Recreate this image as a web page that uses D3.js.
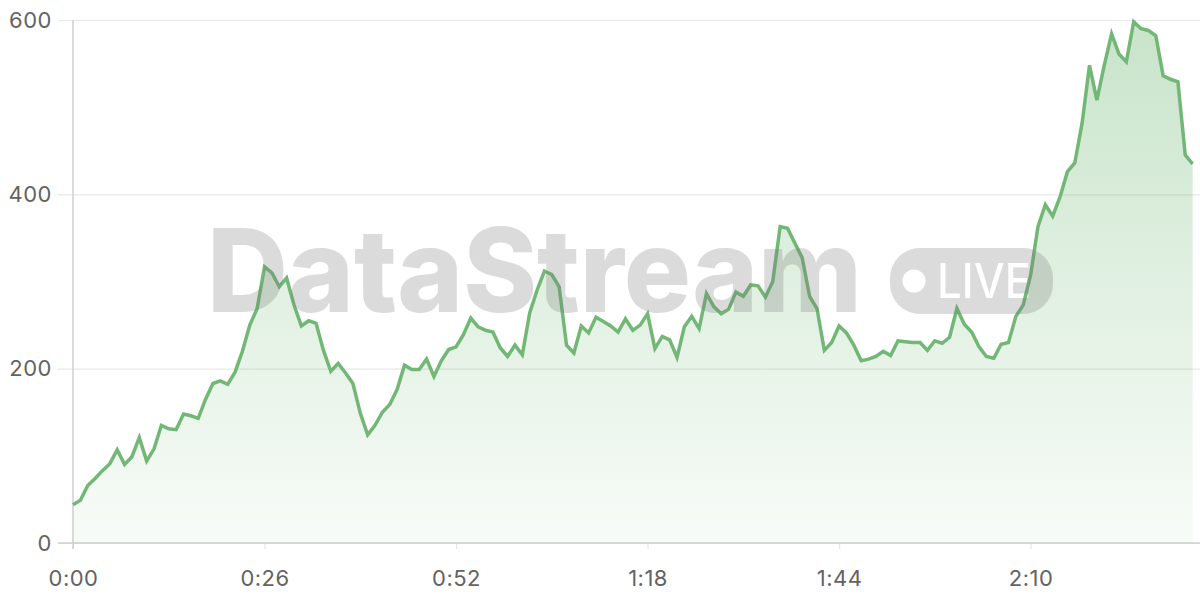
<!DOCTYPE html>
<html>
<head>
<meta charset="utf-8">
<script src="https://cdn.jsdelivr.net/npm/d3@7"></script>
<style>
  html, body { margin: 0; padding: 0; background: #fff; }
  svg { display: block; }
</style>
</head>
<body>
<svg id="chart" width="1200" height="600"></svg>
<script>
// seconds elapsed (one sample per second)
const values = [
  44, 49, 66, 74, 83, 91, 107, 90, 99, 121,
  94, 108, 135, 131, 130, 148, 146, 143, 165, 183,
  186, 182, 196, 220, 250, 269, 317, 310, 294, 304,
  273, 249, 255, 252, 221, 197, 206, 195, 183, 149,
  124, 135, 150, 159, 176, 204, 199, 199, 211, 191,
  209, 222, 225, 239, 258, 248, 244, 242, 224, 214,
  227, 216, 264, 290, 312, 308, 294, 227, 218, 249,
  241, 259, 254, 249, 242, 257, 244, 250, 263, 223,
  237, 233, 213, 248, 260, 246, 286, 271, 263, 268,
  288, 283, 296, 295, 282, 300, 363, 361, 344, 327,
  283, 269, 221, 230, 249, 241, 227, 209, 211, 214,
  220, 215, 232, 231, 230, 230, 221, 232, 229, 236,
  269, 251, 242, 225, 214, 212, 228, 230, 260, 273,
  307, 363, 388, 375, 397, 426, 436, 482, 548, 508,
  548, 584, 561, 552, 598, 590, 588, 582, 536, 532,
  529, 445, 435
];
const times = values.map((v, i) => i);
const xTicks = [0, 26, 52, 78, 104, 130];
const yTicks = [0, 200, 400, 600];
const watermarkText = "DataStream";
const badgeText = "LIVE";

const svg = d3.select("#chart");
const mLeft = 73, mRight = 1200, mTop = 20, mBottom = 543;

const x = d3.scaleLinear().domain([0, 153]).range([mLeft, mRight]);
const y = d3.scaleLinear().domain([0, 600]).range([mBottom, mTop]);
const fmt = s => Math.floor(s / 60) + ":" + String(s % 60).padStart(2, "0");

const defs = svg.append("defs");
const grad = defs.append("linearGradient")
  .attr("id", "areaGrad").attr("gradientUnits", "userSpaceOnUse")
  .attr("x1", 0).attr("x2", 0).attr("y1", mTop).attr("y2", mBottom);
grad.append("stop").attr("offset", "0%").attr("stop-color", "#6fb873").attr("stop-opacity", 0.38);
grad.append("stop").attr("offset", "100%").attr("stop-color", "#6fb873").attr("stop-opacity", 0.05);

const labelFont = "Inter, 'Open Sans', sans-serif";

// horizontal grid
const gy = svg.append("g").attr("transform", `translate(${mLeft},0)`)
  .call(d3.axisLeft(y).tickValues(yTicks).tickSize(-(mRight - mLeft)).tickPadding(21).tickFormat(d3.format("d")));
gy.select(".domain").remove();
gy.selectAll(".tick line").attr("stroke", "#e8e8e8").attr("stroke-width", 1.2).attr("x1", -15);
gy.selectAll(".tick text").attr("fill", "#636363").style("font-family", labelFont)
  .style("font-size", "22px").style("letter-spacing", "0.5px").attr("x", -21);

// vertical grid
const gx = svg.append("g").attr("transform", `translate(0,${mBottom})`)
  .call(d3.axisBottom(x).tickValues(xTicks).tickSize(-(mBottom - mTop)).tickPadding(27).tickFormat(fmt));
gx.select(".domain").remove();
gx.selectAll(".tick line").attr("stroke", "#e6e6e6").attr("stroke-width", 1.2).attr("y2", 6);
gx.selectAll(".tick text").attr("fill", "#636363").style("font-family", labelFont)
  .style("font-size", "22px").style("letter-spacing", "0.5px");

// axis lines
svg.append("line").attr("x1", mLeft).attr("x2", mLeft).attr("y1", mTop).attr("y2", mBottom + 6)
  .attr("stroke", "#cfcfcf").attr("stroke-width", 1.5);
svg.append("line").attr("x1", mLeft - 15).attr("x2", mRight).attr("y1", y(0)).attr("y2", y(0))
  .attr("stroke", "#cfcfcf").attr("stroke-width", 1.5);

const data = times.map((t, i) => ({ t, v: values[i] }));

svg.append("path").datum(data)
  .attr("fill", "url(#areaGrad)")
  .attr("d", d3.area().x(d => x(d.t)).y0(y(0)).y1(d => y(d.v)));

svg.append("path").datum(data)
  .attr("fill", "none").attr("stroke", "#72b776").attr("stroke-width", 3.5)
  .attr("stroke-linejoin", "miter").attr("stroke-miterlimit", 4)
  .attr("d", d3.line().x(d => x(d.t)).y(d => y(d.v)));

// watermark
const wm = svg.append("g").attr("opacity", 0.27);
wm.append("text").text(watermarkText)
  .attr("x", 207).attr("y", 312)
  .attr("textLength", 655).attr("lengthAdjust", "spacingAndGlyphs")
  .style("font-family", labelFont).style("font-weight", 800)
  .style("font-size", "116px").attr("fill", "#7a7a7a");
const mask = defs.append("mask").attr("id", "badgeMask");
mask.append("rect").attr("x", 0).attr("y", 0).attr("width", 1200).attr("height", 600).attr("fill", "#fff");
mask.append("circle").attr("cx", 914).attr("cy", 281).attr("r", 11.5).attr("fill", "#000");
mask.append("text").text(badgeText).attr("x", 937).attr("y", 298)
  .attr("textLength", 94).attr("lengthAdjust", "spacingAndGlyphs")
  .style("font-family", labelFont).style("font-weight", 500)
  .style("font-size", "48px").attr("fill", "#000");
wm.append("rect").attr("x", 890).attr("y", 248).attr("width", 163).attr("height", 66).attr("rx", 30)
  .attr("fill", "#7a7a7a").attr("mask", "url(#badgeMask)");
</script>
</body>
</html>
